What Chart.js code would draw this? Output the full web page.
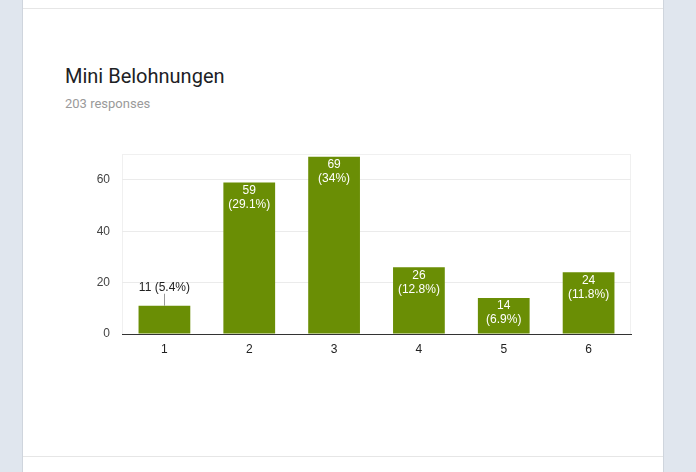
<!DOCTYPE html>
<html>
<head>
<meta charset="utf-8">
<script src="https://cdn.jsdelivr.net/npm/chart.js@4.4.0/dist/chart.umd.min.js"></script>
<style>
  html, body { margin:0; padding:0; width:696px; height:472px; overflow:hidden; background:#e0e6ee; }
  #card { position:absolute; left:23px; top:0; width:640px; height:472px; background:#fff;
          box-shadow: -1px 0 0 #cfd5dd, 1px 0 0 #cfd5dd; }
  .sep { position:absolute; left:0; width:640px; height:1px; background:#e6e6e6; }
  #title { position:absolute; left:42px; top:66px; font-family:Roboto, sans-serif; font-size:20px; line-height:20px; color:#202124; white-space:nowrap; }
  #sub { position:absolute; left:42px; top:97px; font-family:Roboto, sans-serif; font-size:13px; line-height:13px; color:#9a9a9a; white-space:nowrap; }
  #wrap { position:absolute; left:0; top:135px; width:640px; height:236px; }
</style>
</head>
<body>
<div id="card">
  <div class="sep" style="top:8px"></div>
  <div class="sep" style="top:456px"></div>
  <div id="title">Mini Belohnungen</div>
  <div id="sub">203 responses</div>
  <div id="wrap"><canvas id="c"></canvas></div>
</div>
<script>
const categories = ['1', '2', '3', '4', '5', '6'];
const counts = [11, 59, 69, 26, 14, 24];
const percentLabels = ['5.4%', '29.1%', '34%', '12.8%', '6.9%', '11.8%'];
const yTicks = [0, 20, 40, 60];

const barColor = '#6a8e05';

const labelPlugin = {
  id: 'barLabels',
  beforeDraw(chart) {
    const a = chart.chartArea, ctx = chart.ctx;
    ctx.save();
    ctx.strokeStyle = '#f0f0f0';
    ctx.lineWidth = 1;
    ctx.strokeRect(Math.round(a.left) + 0.5, Math.round(a.top) + 0.5, Math.round(a.right - a.left) - 1, Math.round(a.bottom - a.top));
    ctx.restore();
  },
  afterDatasetsDraw(chart) {
    const ctx = chart.ctx;
    const meta = chart.getDatasetMeta(0);
    ctx.save();
    ctx.font = '12px Arial, "Liberation Sans", sans-serif';
    ctx.textAlign = 'center';
    ctx.textBaseline = 'middle';
    meta.data.forEach((bar, i) => {
      const v = counts[i];
      const h = bar.base - bar.y;
      if (h >= 32) {
        ctx.fillStyle = '#ffffff';
        ctx.fillText(String(v), bar.x, bar.y + 8);
        ctx.fillText('(' + percentLabels[i] + ')', bar.x, bar.y + 22);
      } else {
        ctx.strokeStyle = '#999999';
        ctx.lineWidth = 1;
        ctx.beginPath();
        ctx.moveTo(Math.round(bar.x) + 0.5, bar.y);
        ctx.lineTo(Math.round(bar.x) + 0.5, bar.y - 12);
        ctx.stroke();
        ctx.fillStyle = '#222222';
        ctx.fillText(v + ' (' + percentLabels[i] + ')', bar.x, bar.y - 18);
      }
    });
    ctx.restore();
  }
};

Chart.defaults.font.family = 'Arial, "Liberation Sans", sans-serif';
Chart.defaults.font.size = 12;
Chart.defaults.color = '#444';

new Chart(document.getElementById('c'), {
  type: 'bar',
  data: {
    labels: categories,
    datasets: [{
      data: counts,
      backgroundColor: barColor,
      borderWidth: 0,
      barPercentage: 0.61,
      categoryPercentage: 1.0
    }]
  },
  options: {
    responsive: true,
    maintainAspectRatio: false,
    animation: false,
    devicePixelRatio: 1,
    layout: { padding: { left: 0, right: 32, top: 9, bottom: 0 } },
    plugins: { legend: { display: false }, tooltip: { enabled: false } },
    scales: {
      x: {
        grid: { display: false, drawTicks: false },
        border: { display: true, color: '#333333', width: 1 },
        ticks: { padding: 8, color: '#222' },
        afterFit(scale) { scale.height = 37; }
      },
      y: {
        min: 0,
        max: 70,
        afterBuildTicks(scale) { scale.ticks = yTicks.map(v => ({ value: v })); },
        grid: {
          drawTicks: false,
          color: (ctx) => ctx.tick && ctx.tick.value === 0 ? 'rgba(0,0,0,0)' : '#ebebeb'
        },
        border: { display: false },
        ticks: { padding: 12, color: '#444' },
        afterFit(scale) { scale.width = 99; }
      }
    }
  },
  plugins: [labelPlugin]
});
</script>
</body>
</html>
